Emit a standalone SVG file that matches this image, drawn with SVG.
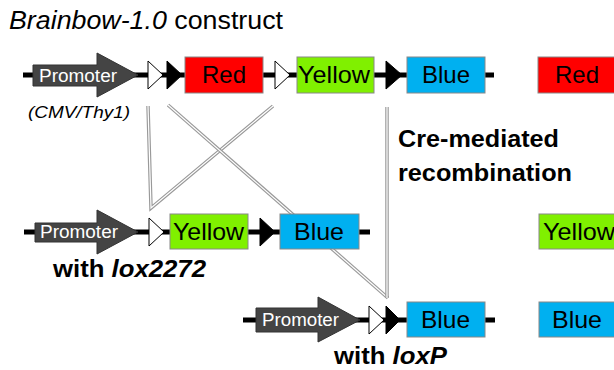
<svg xmlns="http://www.w3.org/2000/svg" width="614" height="370" viewBox="0 0 614 370">
<style>
  .bb{stroke:#000;stroke-width:5;fill:none}
  .prom{fill:#444;stroke:#333;stroke-width:1}
  .ptxt{font-family:"Liberation Sans",Arial,sans-serif;font-size:18px;fill:#fff}
  .wt{fill:#fff;stroke:#000;stroke-width:1}
  .bt{fill:#000;stroke:#000;stroke-width:1}
  .box{stroke:#888;stroke-width:1}
  .red{fill:#ff0000}
  .yel{fill:#80f000}
  .blu{fill:#00b0f0}
  .btxt{font-family:"Liberation Sans",Arial,sans-serif;font-size:24px;fill:#000}
  .lo{stroke:#999;stroke-width:3.5;fill:none;stroke-linejoin:miter}
  .li{stroke:#fff;stroke-width:1.2;fill:none}
  .lbl{font-family:"Liberation Sans",Arial,sans-serif;fill:#000}
</style>
<rect width="614" height="370" fill="#fff"/>
<text class="lbl" x="9" y="29" font-size="25" textLength="274" lengthAdjust="spacingAndGlyphs"><tspan font-style="italic">Brainbow-1.0</tspan> construct</text>
<g id="connectors">
  <path class="lo" d="M148,106 L151,208 L273,106"/>
  <path class="li" d="M148,106 L151,208 L273,106"/>
  <path class="lo" d="M168,105 L388,298"/>
  <path class="li" d="M168,105 L388,298"/>
  <path class="lo" d="M387,107 L387,298"/>
  <path class="li" d="M387,107 L387,298"/>
</g>
<g id="row1">
  <line class="bb" x1="23" y1="75" x2="494" y2="75"/>
  <g id="promoter1">
    <path class="prom" d="M33,65 H97 V53 L138,75 L97,97 V86 H33 Z"/>
    <text class="ptxt" x="39" y="82" textLength="78" lengthAdjust="spacingAndGlyphs">Promoter</text>
  </g>
  <polygon id="lox2272a" class="wt" points="148,61 148,89 163,75"/>
  <polygon id="loxPa" class="bt" points="167,61 167,89 182,75"/>
  <g id="red1"><rect class="box red" x="185" y="57" width="78" height="36"/><text class="btxt" x="202" y="83" textLength="44" lengthAdjust="spacingAndGlyphs">Red</text></g>
  <polygon id="lox2272b" class="wt" points="275,61 275,89 290,75"/>
  <g id="yellow1"><rect class="box yel" x="297" y="57" width="77" height="36"/><text class="btxt" x="298" y="83" textLength="72" lengthAdjust="spacingAndGlyphs">Yellow</text></g>
  <polygon id="loxPb" class="bt" points="386,61 386,89 402,75"/>
  <g id="blue1"><rect class="box blu" x="407" y="57" width="78" height="36"/><text class="btxt" x="422" y="83" textLength="48" lengthAdjust="spacingAndGlyphs">Blue</text></g>
  <text class="lbl" x="28" y="118" font-size="17" font-style="italic" textLength="102" lengthAdjust="spacingAndGlyphs">(CMV/Thy1)</text>
</g>
<g id="cre-label">
  <text class="lbl" x="398" y="147" font-size="24" font-weight="bold" textLength="161" lengthAdjust="spacingAndGlyphs">Cre-mediated</text>
  <text class="lbl" x="398" y="181" font-size="24" font-weight="bold" textLength="174" lengthAdjust="spacingAndGlyphs">recombination</text>
</g>
<g id="row2">
  <line class="bb" x1="24" y1="232" x2="370" y2="232"/>
  <g id="promoter2">
    <path class="prom" d="M35,223 H97 V210 L138,232 L97,254 V242 H35 Z"/>
    <text class="ptxt" x="40" y="238" textLength="78" lengthAdjust="spacingAndGlyphs">Promoter</text>
  </g>
  <polygon class="wt" points="149,218 149,246 164,232"/>
  <g id="yellow2"><rect class="box yel" x="170" y="214" width="78" height="35"/><text class="btxt" x="173" y="240" textLength="71" lengthAdjust="spacingAndGlyphs">Yellow</text></g>
  <polygon class="bt" points="260,218 260,246 275,232"/>
  <g id="blue2"><rect class="box blu" x="280" y="214" width="79" height="35"/><text class="btxt" x="294" y="240" textLength="50" lengthAdjust="spacingAndGlyphs">Blue</text></g>
  <text class="lbl" x="53" y="277" font-size="23" font-weight="bold" textLength="153" lengthAdjust="spacingAndGlyphs">with <tspan font-style="italic">lox2272</tspan></text>
</g>
<g id="row3">
  <line class="bb" x1="243" y1="320" x2="495" y2="320"/>
  <g id="promoter3">
    <path class="prom" d="M256,308 H318 V297 L360,320 L318,342 V332 H256 Z"/>
    <text class="ptxt" x="262" y="326" textLength="77" lengthAdjust="spacingAndGlyphs">Promoter</text>
  </g>
  <polygon class="wt" points="369,306 369,334 384,320"/>
  <polygon class="bt" points="386,306 386,334 400,320"/>
  <g id="blue3"><rect class="box blu" x="407" y="302" width="78" height="35"/><text class="btxt" x="421" y="328" textLength="49" lengthAdjust="spacingAndGlyphs">Blue</text></g>
  <text class="lbl" x="334" y="364" font-size="23" font-weight="bold" textLength="113" lengthAdjust="spacingAndGlyphs">with <tspan font-style="italic">loxP</tspan></text>
</g>
<g id="outcome-red"><rect class="box red" x="538" y="57" width="90" height="36"/><text class="btxt" x="555" y="83" textLength="44" lengthAdjust="spacingAndGlyphs">Red</text></g>
<g id="outcome-yellow"><rect class="box yel" x="539" y="214" width="90" height="35"/><text class="btxt" x="543" y="240" textLength="72" lengthAdjust="spacingAndGlyphs">Yellow</text></g>
<g id="outcome-blue"><rect class="box blu" x="539" y="302" width="90" height="35"/><text class="btxt" x="552" y="328" textLength="50" lengthAdjust="spacingAndGlyphs">Blue</text></g>
</svg>
